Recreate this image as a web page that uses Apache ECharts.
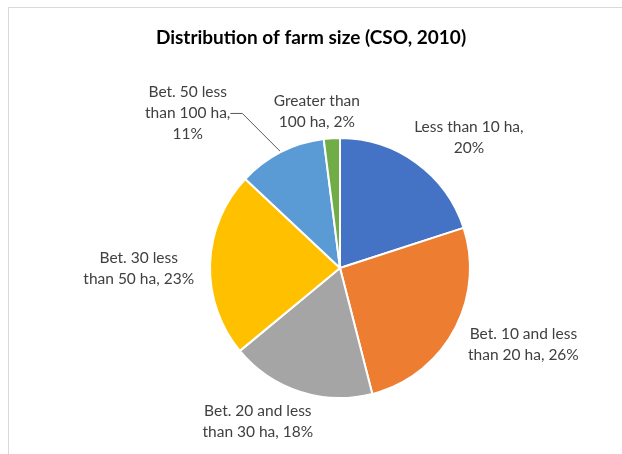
<!DOCTYPE html>
<html>
<head>
<meta charset="utf-8">
<script src="https://cdn.jsdelivr.net/npm/echarts@6/dist/echarts.min.js"></script>
<style>
  html, body { margin: 0; padding: 0; background: #fff; }
  #frame { position: absolute; left: 8px; top: 7px; width: 700px; height: 500px; border: 1px solid #d9d9d9; }
  #chart { position: absolute; left: 0; top: 0; width: 622px; height: 454px; }
</style>
</head>
<body>
<div id="frame"></div>
<div id="chart"></div>
<script>
const categories = [
  'Less than 10 ha',
  'Bet. 10 and less than 20 ha',
  'Bet. 20 and less than 30 ha',
  'Bet. 30 less than 50 ha',
  'Bet. 50 less than 100 ha',
  'Greater than 100 ha'
];
const labelText = [
  'Less than 10 ha,\n20%',
  'Bet. 10 and less\nthan 20 ha, 26%',
  'Bet. 20 and less\nthan 30 ha, 18%',
  'Bet. 30 less\nthan 50 ha, 23%',
  'Bet. 50 less\nthan 100 ha,\n11%',
  'Greater than\n100 ha, 2%'
];
const shares = [20, 26, 18, 23, 11, 2];
const colors = ['#4472C4', '#ED7D31', '#A5A5A5', '#FFC000', '#5B9BD5', '#70AD47'];
// label shifts from the default outside spot, as placed by hand in the original
const nudgeX = [-16, -4, 23, 4, -20, 34];
const nudgeY = [-13, 7, 16, 5, -12, -12];

const chart = echarts.init(document.getElementById('chart'), null, { renderer: 'canvas' });

const option = {
  backgroundColor: 'transparent',
  animation: false,
  title: {
    text: 'Distribution of farm size (CSO, 2010)',
    left: 'center',
    top: 23,
    textStyle: { fontFamily: 'Lato', fontSize: 19, fontWeight: 'bold', color: '#000' }
  },
  series: [
    {
      type: 'pie',
      center: [340, 268],
      radius: 130,
      startAngle: 90,
      clockwise: true,
      avoidLabelOverlap: false,
      itemStyle: { borderColor: '#fff', borderWidth: 2 },
      label: {
        show: true,
        position: 'outside',
        fontFamily: 'Lato',
        fontSize: 15.5,
        lineHeight: 21,
        color: '#404040',
        formatter: (p) => labelText[p.dataIndex]
      },
      labelLine: { show: false, length: 15, length2: 0 },
      labelLayout: (p) => {
        const r = p.labelRect;
        const i = p.dataIndex;
        return {
          x: r.x + r.width / 2 + nudgeX[i],
          y: r.y + r.height / 2 + nudgeY[i],
          align: 'center',
          verticalAlign: 'middle'
        };
      },
      data: categories.map((c, i) => {
        const d = { name: c, value: shares[i], itemStyle: { color: colors[i] } };
        if (i === 4) {
          d.labelLine = { show: true, length: 30, length2: 12, lineStyle: { color: '#595959', width: 1 } };
        }
        return d;
      })
    }
  ]
};

chart.setOption(option);
</script>
</body>
</html>
